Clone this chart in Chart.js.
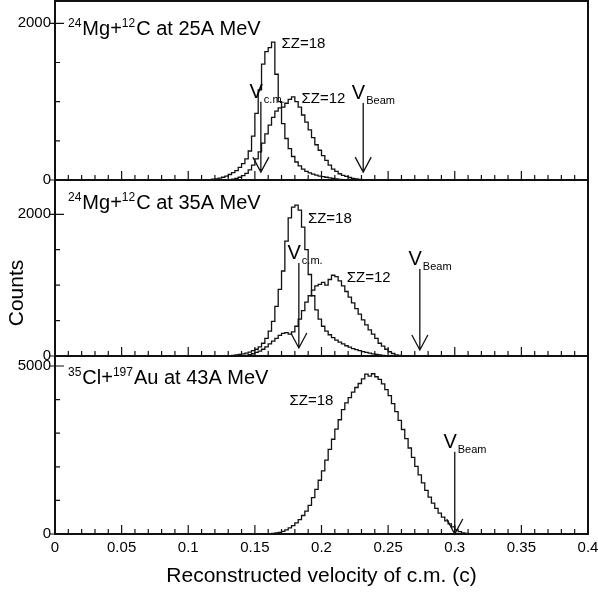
<!DOCTYPE html>
<html>
<head>
<meta charset="utf-8">
<script src="https://cdn.jsdelivr.net/npm/chart.js@4.4.1/dist/chart.umd.min.js"></script>
<style>
  body { margin: 0; background: #fff; }
  #wrap { position: relative; width: 598px; height: 597px; }
  canvas { position: absolute; left: 0; }
</style>
</head>
<body>
<div id="wrap">
  <canvas id="c1" width="598" height="190" style="top:0px"></canvas>
  <canvas id="c2" width="598" height="196" style="top:170px"></canvas>
  <canvas id="c3" width="598" height="251" style="top:346px"></canvas>
</div>
<script>
// Histogrammes de vitesse du c.m. reconstruite
const FONT = '"Liberation Sans", Arial, sans-serif';
const binWidth = 0.0025;

// 24Mg + 12C a 25A MeV
const mg25Z18Start = 0.115;
const mg25Z18 = [5, 10, 15, 25, 35, 50, 70, 95, 120, 160,
  210, 270, 370, 560, 850, 1150, 1480, 1640, 1690, 1760,
  1350, 1000, 720, 530, 400, 300, 230, 180, 140, 110,
  90, 75, 62, 50, 42, 35, 28, 20, 14, 8, 4];
const mg25Z12Start = 0.130;
const mg25Z12 = [5, 10, 20, 35, 55, 85, 130, 190, 270, 360,
  470, 590, 700, 800, 880, 920, 930, 980, 1030, 1060,
  1000, 930, 830, 740, 640, 540, 450, 380, 310, 250,
  190, 140, 110, 80, 60, 45, 32, 22, 14, 8, 4];

// 24Mg + 12C a 35A MeV
const mg35Z18Start = 0.130;
const mg35Z18 = [5, 10, 15, 22, 30, 40, 55, 75, 95, 130,
  180, 250, 350, 490, 700, 940, 1200, 1620, 1950, 2100,
  2130, 2060, 1820, 1500, 1150, 850, 650, 520, 420, 350,
  300, 260, 225, 195, 170, 145, 125, 105, 90, 75,
  62, 50, 40, 30, 22, 15, 10, 5];
const mg35Z12Start = 0.140;
const mg35Z12 = [5, 10, 20, 32, 50, 70, 95, 130, 170, 210,
  250, 290, 320, 330, 310, 340, 420, 520, 640, 760,
  850, 930, 990, 1010, 1040, 1000, 1080, 1140, 1120, 1060,
  990, 910, 830, 750, 670, 590, 510, 440, 370, 310,
  250, 180, 140, 95, 60, 35, 15, 8, 4];

// 35Cl + 197Au a 43A MeV
const cl43Z18Start = 0.160;
const cl43Z18 = [5, 15, 30, 50, 80, 120, 180, 250, 330, 430,
  550, 680, 850, 1080, 1330, 1600, 1880, 2200, 2520, 2820,
  3120, 3400, 3700, 3900, 4060, 4220, 4360, 4480, 4620, 4760,
  4700, 4770, 4680, 4600, 4470, 4300, 4120, 3880, 3640, 3380,
  3110, 2840, 2560, 2280, 2010, 1760, 1520, 1300, 1100, 920,
  760, 620, 500, 390, 300, 210, 130, 70, 35, 15, 5];

const panelTitles = ['^24Mg+^12C at 25A MeV', '^24Mg+^12C at 35A MeV', '^35Cl+^197Au at 43A MeV'];
const yMax = [2285, 2484, 5298];
const yLabelTicks = [[0, 2000], [0, 2000], [0, 5000]];
const yMinorStep = [500, 500, 1000];
const xLabelTicks = [0, 0.05, 0.1, 0.15, 0.2, 0.25, 0.3, 0.35, 0.4];

// fleches : [vitesse, haut, pointe] en coups
const arrowsCm = [[0.1545, 1000, 100], [0.183, 1313, 113], null];
const arrowsBeam = [[0.2313, 983, 100], [0.2738, 1228, 85], [0.300, 2450, 0]];
const zLabels = [
  [['\u03A3Z=18', 0.170, 1685], ['\u03A3Z=12', 0.185, 983]],
  [['\u03A3Z=18', 0.1898, 1877], ['\u03A3Z=12', 0.219, 1044]],
  [['\u03A3Z=18', 0.176, 3839]]
];

const panelSeries = [
  [[mg25Z18Start, mg25Z18], [mg25Z12Start, mg25Z12]],
  [[mg35Z18Start, mg35Z18], [mg35Z12Start, mg35Z12]],
  [[cl43Z18Start, cl43Z18]]
];
const titleDy = [34, 29, 28];

function histPoints(start, counts) {
  const pts = [{x: start - binWidth, y: 0}];
  counts.forEach((c, k) => pts.push({x: start + k * binWidth, y: c}));
  pts.push({x: start + counts.length * binWidth, y: 0});
  return pts;
}

function drawRich(ctx, x, y, text, size) {
  const parts = text.split(/(\^\d+)/);
  ctx.textAlign = 'left';
  ctx.textBaseline = 'alphabetic';
  for (const p of parts) {
    if (!p) continue;
    const sup = p[0] === '^';
    const t = sup ? p.slice(1) : p;
    ctx.font = (sup ? Math.round(size * 0.6) : size) + 'px ' + FONT;
    ctx.fillText(t, x, sup ? y - size * 0.42 : y);
    x += ctx.measureText(t).width + (sup ? 1 : 0);
  }
}

function drawArrow(ctx, xs, ys, arr, sub) {
  if (!arr) return;
  const px = xs.getPixelForValue(arr[0]);
  const top = ys.getPixelForValue(arr[1]);
  const tip = ys.getPixelForValue(arr[2]);
  ctx.lineWidth = 1.3;
  ctx.beginPath();
  ctx.moveTo(px, top); ctx.lineTo(px, tip);
  ctx.moveTo(px - 8, tip - 15); ctx.lineTo(px, tip); ctx.lineTo(px + 8, tip - 15);
  ctx.stroke();
  ctx.textBaseline = 'alphabetic';
  ctx.font = '20px ' + FONT;
  ctx.textAlign = 'right';
  ctx.fillText('V', px + 2, top - 4);
  ctx.font = '11px ' + FONT;
  ctx.textAlign = 'left';
  ctx.fillText(sub, px + 3, top + 1);
}

function panelPlugin(i) {
  return {
    id: 'panel' + i,
    afterDatasetsDraw(chart) {
      const ctx = chart.ctx, a = chart.chartArea;
      const xs = chart.scales.x, ys = chart.scales.y;
      ctx.save();
      ctx.strokeStyle = '#111';
      ctx.fillStyle = '#000';
      // graduations internes
      ctx.lineWidth = 1.2;
      ctx.beginPath();
      for (let k = 0; k <= 40; k++) {
        const px = xs.getPixelForValue(k / 100);
        const len = k % 5 === 0 ? 9 : 5;
        ctx.moveTo(px, a.bottom); ctx.lineTo(px, a.bottom - len);
      }
      for (let v = 0; v <= yMax[i]; v += yMinorStep[i]) {
        const py = ys.getPixelForValue(v);
        if (yLabelTicks[i].includes(v)) { ctx.moveTo(a.left - 5, py); ctx.lineTo(a.left + 9, py); }
        else { ctx.moveTo(a.left, py); ctx.lineTo(a.left + 5, py); }
      }
      ctx.stroke();
      // cadre
      ctx.lineWidth = 2;
      ctx.strokeRect(a.left, a.top, a.right - a.left, a.bottom - a.top);
      // titre du panneau
      drawRich(ctx, a.left + 13, a.top + titleDy[i], panelTitles[i], 20);
      // etiquettes sigma Z
      ctx.font = '15px ' + FONT;
      ctx.textAlign = 'left';
      zLabels[i].forEach(l => ctx.fillText(l[0], xs.getPixelForValue(l[1]), ys.getPixelForValue(l[2])));
      drawArrow(ctx, xs, ys, arrowsCm[i], 'c.m.');
      drawArrow(ctx, xs, ys, arrowsBeam[i], 'Beam');
      if (i === 1) {
        ctx.translate(17, 123);
        ctx.rotate(-Math.PI / 2);
        ctx.font = '21px ' + FONT;
        ctx.textAlign = 'center';
        ctx.textBaseline = 'middle';
        ctx.fillText('Counts', 0, 0);
      }
      ctx.restore();
    }
  };
}

function noPad(s) { s.paddingTop = 0; s.paddingBottom = 0; s.paddingLeft = 0; s.paddingRight = 0; }

function makeChart(i, id, padTop, padBottom, isBottom) {
  const datasets = panelSeries[i].map(s => ({
    data: histPoints(s[0], s[1]),
    stepped: 'before',
    borderColor: '#111',
    borderWidth: 1.3,
    pointRadius: 0,
    fill: false
  }));
  new Chart(document.getElementById(id), {
    type: 'line',
    data: { datasets: datasets },
    options: {
      responsive: false,
      animation: false,
      layout: { padding: { top: padTop, bottom: padBottom, left: 0, right: 10 } },
      plugins: { legend: { display: false }, tooltip: { enabled: false } },
      scales: {
        x: {
          type: 'linear', min: 0, max: 0.4,
          afterBuildTicks: s => { s.ticks = xLabelTicks.map(v => ({value: v})); },
          afterFit: s => { s.height = isBottom ? 63 : 0; noPad(s); },
          grid: { display: false, drawTicks: false },
          border: { display: false },
          ticks: {
            display: isBottom, color: '#000', padding: 5, maxRotation: 0,
            font: { family: FONT, size: 15 },
            callback: v => String(Number(v.toFixed(2)))
          },
          title: {
            display: isBottom, text: 'Reconstructed velocity of c.m. (c)', color: '#000',
            font: { family: FONT, size: 21 }, padding: { top: 0, bottom: 8 }
          }
        },
        y: {
          min: 0, max: yMax[i],
          afterBuildTicks: s => { s.ticks = yLabelTicks[i].map(v => ({value: v})); },
          afterFit: s => { s.width = 55; noPad(s); },
          grid: { display: false, drawTicks: false },
          border: { display: false },
          ticks: {
            color: '#000', padding: 4, font: { family: FONT, size: 15 },
            callback: v => String(v)
          }
        }
      }
    },
    plugins: [panelPlugin(i)]
  });
}

makeChart(0, 'c1', 1, 10, false);
makeChart(1, 'c2', 10, 10, false);
makeChart(2, 'c3', 10, 0, true);
</script>
</body>
</html>
